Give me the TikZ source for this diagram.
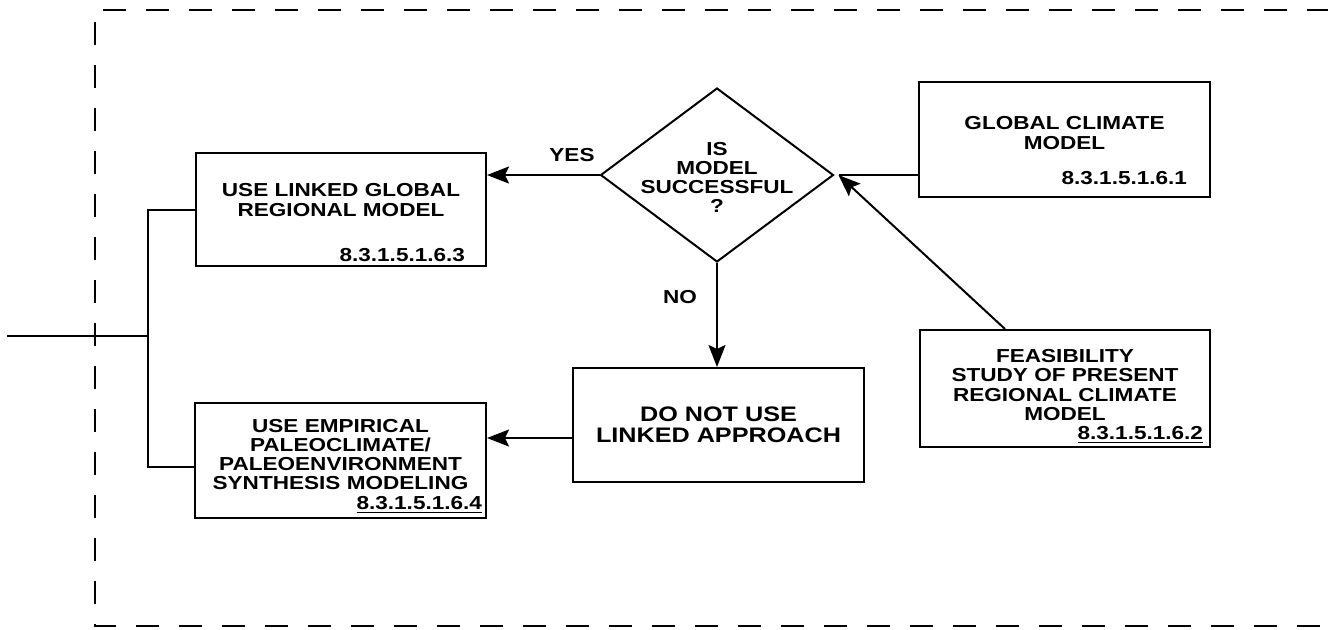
\documentclass[tikz,border=0pt]{standalone}
\usepackage{fontspec}
\setmainfont{Liberation Sans}[FakeStretch=1.2]
\usetikzlibrary{shapes.geometric}
\usetikzlibrary{arrows.meta}
\usetikzlibrary{positioning}
\tikzstyle{box} = [draw, rectangle, inner sep=0pt]
\tikzstyle{txt} = [align=center]
\tikzstyle{num} = [anchor=base east]
\tikzstyle{decision} = [draw, diamond, minimum width=116.5pt, minimum height=87pt]
\tikzstyle{arr} = [-{Stealth[length=11pt,width=8.5pt,inset=2pt]}]
\tikzstyle{frameline} = [dash pattern=on 11.5pt off 10pt]

\begin{document}
\begin{tikzpicture}[
  x=0.5pt, y=-0.5pt,
  line width=1pt,
  every node/.style={font=\fontsize{9.4}{10}\selectfont\bfseries, inner sep=0pt},
]
\useasboundingbox (0,0) rectangle (1328,629);

% dashed frame, open to the right
\draw[frameline] (1330,10) -- (95,10) -- (95,626) -- (1330,626);

% decision
\node[decision] (dec) at (717,175) {};
\node[txt, font=\fontsize{9.4}{9.4}\selectfont\bfseries] (dectxt) at ([yshift=-1.25pt]dec.center)
  {IS\\MODEL\\SUCCESSFUL\\?};
\coordinate (tip) at ([xshift=2pt]dec.east);

% boxes
\node[box, minimum width=145pt, minimum height=56.5pt] (UL) at (341,209.5) {};
\node[txt] (ULtxt) at ([yshift=4.75pt]UL.center) {USE LINKED GLOBAL\\REGIONAL MODEL};
\node[num] (ULnum) at ([shift={(-10.5pt,3pt)}]UL.south east) {8.3.1.5.1.6.3};

\node[box, minimum width=145.5pt, minimum height=57.5pt] (UE) at (340.5,460.5) {};
\node[txt, font=\fontsize{9.4}{9.5}\selectfont\bfseries] (UEtxt) at ([yshift=3pt]UE.center)
  {USE EMPIRICAL\\PALEOCLIMATE/\\PALEOENVIRONMENT\\SYNTHESIS MODELING};
\node[num] (UEnum) at ([shift={(-2pt,5pt)}]UE.south east) {\underline{8.3.1.5.1.6.4}};

\node[box, minimum width=145.5pt, minimum height=57pt] (DN) at (718.5,425) {};
\node[txt, font=\fontsize{10.5}{10.5}\selectfont\bfseries] (DNtxt) at (DN.center)
  {DO NOT USE\\LINKED APPROACH};

\node[box, minimum width=145.5pt, minimum height=57.5pt] (GC) at (1064.5,139.5) {};
\node[txt] (GCtxt) at ([yshift=3pt]GC.center) {GLOBAL CLIMATE\\MODEL};
\node[num] (GCnum) at ([shift={(-11.5pt,7pt)}]GC.south east) {8.3.1.5.1.6.1};

\node[box, minimum width=145pt, minimum height=58.5pt] (FS) at (1065,388.5) {};
\node[txt, font=\fontsize{9.4}{9.75}\selectfont\bfseries] (FStxt) at ([yshift=1.75pt]FS.center)
  {FEASIBILITY\\STUDY OF PRESENT\\REGIONAL CLIMATE\\MODEL};
\node[num] (FSnum) at ([shift={(-3.5pt,4.5pt)}]FS.south east) {\underline{8.3.1.5.1.6.2}};

% labels
\node (yes) at (572,155) {YES};
\node (no) at (680,297.5) {NO};

% connectors
\coordinate (in) at (7,336);
\coordinate (bus) at (148,336);
\draw (in) -- (bus);
\draw (UL.west) -| (bus) |- ([yshift=-3.25pt]UE.west);
\draw[arr] (dec.west) -- (dec.west -| UL.east);
\draw[arr] (dec.south) -- (dec.south |- DN.north);
\draw[arr] ([yshift=-6.5pt]DN.west) -- ([yshift=-6.5pt]DN.west -| UE.east);
\draw (tip -| GC.west) -- (tip);
\draw[arr] ([xshift=-30pt]FS.north) -- (tip);
\end{tikzpicture}
\end{document}
